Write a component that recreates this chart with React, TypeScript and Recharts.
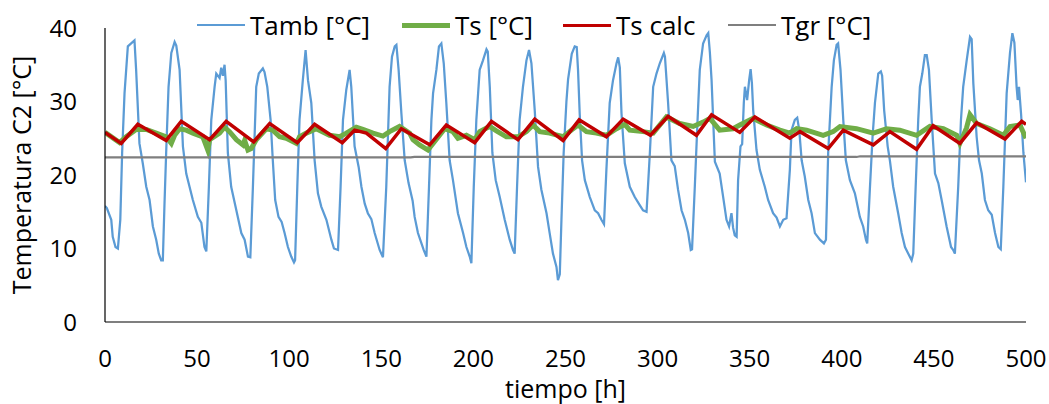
import { LineChart, Line, XAxis, YAxis, Legend } from "recharts";

const FONT = "'Open Sans', 'Noto Sans', sans-serif";

// [tiempo h, valor °C]
const tambPoints: [number, number][] = [
  [0, 15.8], [1.0, 15.5], [3.4, 13.9], [4.2, 11.6], [5.7, 10.2], [7.0, 10.0], [8.3, 13.9], [9.3, 23], [10.6, 31.1],
  [12.4, 37.5], [14.2, 37.9], [16.0, 38.3], [16.9, 34.3], [18.7, 24.3], [20.5, 21.6], [22.4, 18.4], [24.2, 16.6],
  [26.0, 13.0], [27.8, 11.2], [29.2, 9.3], [30.5, 8.4], [31.4, 8.4], [32.3, 16.1], [33.2, 23], [34.5, 32], [36.0, 36.6],
  [37.8, 38.1], [38.7, 37.6], [40.5, 34.3], [42.3, 23.9], [44.1, 20.2], [47.7, 16.6], [50.4, 14.3], [52.3, 13.5],
  [54.0, 10.2], [55.0, 9.6], [56.4, 18.4], [57.7, 27.5], [59.5, 32], [60.4, 33.8], [62.2, 33.2], [63.1, 34.6],
  [64.0, 33.5], [64.9, 35], [65.5, 32.9], [66.7, 23], [68.5, 18.4], [71.3, 15.2], [74.0, 12.1], [75.8, 11.2],
  [77.6, 8.9], [78.9, 8.8], [80.3, 18.4], [82.1, 32], [83.5, 33.8], [85.7, 34.5], [86.6, 34.0], [88.1, 32],
  [89.9, 27.5], [91.1, 22], [92.4, 16.6], [94.2, 14.3], [95.9, 13.6], [97.5, 12.1], [99.3, 10.2], [101.1, 8.9],
  [102.6, 8.1], [103.2, 8.4], [104.4, 18.4], [105.6, 27.5], [107.4, 32.9], [108.9, 37], [110.2, 32.9], [112.0, 29.8],
  [113.8, 22], [115.6, 17.5], [117.4, 15.7], [120.2, 13.9], [122.9, 11.2], [124.3, 10.0], [126.5, 9.8], [127.9, 18.4],
  [129.2, 27.5], [131.0, 31.6], [132.8, 34.3], [133.7, 32], [135.5, 23.9], [137.7, 21.1], [139.2, 18.4], [141.0, 16.1],
  [142.7, 14.8], [144.6, 14.0], [146.4, 12.1], [149.1, 9.8], [150.9, 8.8], [152.7, 18.4], [154.5, 32], [155.8, 36.1],
  [157.3, 37.5], [158.2, 37.7], [159.4, 34.3], [160.9, 28.4], [162.7, 22], [164.8, 18.9], [167.0, 16.5], [168.1, 14.3],
  [169.9, 12.1], [171.8, 10.7], [173.0, 9.8], [174.5, 8.9], [175.9, 18.4], [177.2, 27.5], [178.1, 31.1], [179.9, 34.3],
  [181.3, 37.5], [182.6, 37.9], [183.9, 35.2], [185.3, 29.8], [187.1, 22], [188.9, 19.3], [191.6, 14.8], [194.4, 12.1],
  [196.2, 10.2], [198.0, 8.9], [198.9, 8.0], [200.2, 18.4], [201.6, 27.5], [203.4, 34.3], [205.2, 35.6], [207.1, 37.1],
  [207.8, 36.8], [208.9, 32], [210.3, 23], [212.1, 19.3], [214.3, 17.0], [217.0, 13.9], [219.7, 11.2], [221.5, 9.8],
  [222.4, 9.3], [223.7, 18.4], [225.1, 27.5], [226.9, 32], [228.8, 35.6], [230.2, 37], [231.5, 35.2], [233.3, 28.8],
  [235.1, 21.1], [236.9, 18], [239.7, 14.8], [241.4, 12.1], [243.2, 9.3], [245.1, 7.5], [245.9, 5.7], [246.9, 6.5],
  [247.8, 13.9], [249.0, 23], [250.5, 30], [251.4, 33], [253.4, 36.5], [255.0, 37.5], [256.1, 37.4], [256.8, 34.3],
  [257.7, 28.4], [259.0, 22], [260.5, 19.3], [263.2, 17.0], [265.9, 15.2], [267.7, 14.8], [269.5, 13.9], [270.9, 13.3],
  [272.2, 20.7], [274.0, 29.8], [275.8, 32.9], [277.7, 35.2], [278.6, 36], [279.5, 34.6], [280.4, 28.4], [282.2, 21.6],
  [284.9, 18.4], [287.6, 17.0], [290.3, 15.9], [292.1, 15.2], [294.0, 15.0], [295.8, 23], [297.6, 32], [299.4, 33.8],
  [301.2, 35.2], [303.4, 36.6], [304.0, 36.1], [305.7, 29.8], [307.5, 22], [309.3, 21.2], [311.1, 18], [313.0, 15.2],
  [314.8, 13.9], [316.6, 12.1], [318.0, 9.8], [318.7, 9.9], [320.2, 18.4], [321.7, 27.5], [322.9, 34.3], [324.7, 37.9],
  [326.6, 39.0], [327.5, 39.3], [328.4, 36.6], [329.3, 32.9], [331.1, 21.8], [333.7, 20.2], [335.6, 17.0], [337.4, 13.9],
  [338.8, 13.0], [340.1, 14.8], [341.0, 12.8], [341.9, 11.8], [342.9, 11.6], [343.7, 19.3], [345.0, 23.9], [345.9, 24.2],
  [346.8, 29.8], [347.4, 32], [348.6, 30.2], [349.7, 32.9], [350.5, 34.4], [351.2, 32.5], [351.9, 28.8], [353.7, 23.4],
  [355.5, 20.7], [358.2, 18.4], [360.0, 16.6], [362.7, 14.8], [364.6, 14.2], [366.4, 13.0], [368.2, 13.9], [370.0, 14.1],
  [371.8, 20.7], [372.7, 26.1], [374.5, 27.5], [375.8, 27.8], [376.9, 26.1], [378.2, 22], [379.9, 19.8], [381.8, 16.6],
  [383.6, 14.8], [385.4, 12.1], [388.1, 11.2], [390.3, 10.7], [391.4, 11.2], [392.6, 23], [394.5, 32], [395.7, 35.6],
  [397.2, 37.7], [398.0, 37.9], [399.3, 34.3], [400.8, 27.5], [402.2, 22], [404.4, 19.3], [407.1, 17.5], [409.8, 14.3],
  [411.6, 13.0], [413.1, 11.2], [413.8, 10.7], [415.3, 18.4], [416.7, 25.2], [418.0, 29.8], [419.8, 33.8], [421.2, 34.1],
  [421.9, 33.5], [423.0, 28.8], [424.9, 23.9], [426.1, 22], [427.9, 18.4], [430.6, 14.8], [432.5, 12.1], [434.3, 10.2],
  [436.1, 9.3], [437.9, 8.4], [438.8, 9.3], [440.1, 18.4], [441.5, 27.5], [442.4, 32], [443.7, 33.8], [445.1, 36.3],
  [446.1, 36.3], [447.3, 34.3], [448.8, 27.5], [450.6, 20.2], [452.4, 18.9], [454.2, 16.6], [456.9, 13.0], [459.3, 10.2],
  [460.5, 9.8], [461.4, 9.3], [463.2, 18.4], [464.7, 27.5], [465.9, 32], [467.8, 35.6], [469.6, 38.8], [470.5, 38.5],
  [471.4, 32.5], [473.2, 25.2], [474.5, 22], [476.0, 20.2], [477.7, 16.6], [479.5, 15.2], [481.4, 14.6], [483.2, 12.1],
  [485.0, 10.2], [486.3, 9.9], [487.7, 18.4], [489.5, 31.1], [491.3, 36.6], [492.6, 39.3], [493.7, 38], [494.9, 32],
  [495.5, 30.2], [496.2, 32], [497.3, 28.4], [498.6, 23], [500, 19],
];

const tsPoints: [number, number][] = [
  [0, 25.8], [7.9, 24.4], [11.5, 25.2], [16.9, 26.2], [22.4, 26.2], [27.8, 25.7], [33.2, 25.2], [36.0, 24.3],
  [37.8, 25.4], [40.5, 26.3], [44.1, 26.1], [47.7, 25.7], [53.1, 25.2], [55.8, 23.4], [56.8, 24.8], [62.2, 25.7],
  [64.9, 26.5], [67.6, 25.9], [71.3, 24.8], [74.9, 24.1], [75.8, 24.7], [77.6, 23.4], [79.4, 23.6], [82.1, 24.8],
  [87.6, 26.3], [91.1, 26.1], [94.8, 25.2], [98.4, 25.0], [103.9, 24.3], [105.6, 25.2], [109.3, 25.7], [114.7, 26.3],
  [121.9, 25.4], [127.4, 25.2], [131.0, 25.7], [136.4, 26.5], [140.0, 26.2], [145.5, 25.7], [150.9, 25.3], [154.5, 25.9],
  [159.9, 26.6], [165.4, 25.7], [167.2, 24.8], [170.8, 24.1], [175.3, 23.4], [178.1, 24.3], [184.4, 26.3], [188.9, 25.9],
  [191.6, 25.0], [196.2, 25.4], [200.7, 24.8], [203.4, 25.9], [208.8, 26.6], [212.5, 26.0], [217.9, 25.2], [224.2, 25.2],
  [228.8, 25.9], [232.4, 26.8], [236.0, 25.9], [241.4, 25.7], [248.7, 25.2], [253.2, 26.1], [256.8, 26.8], [261.4, 25.9],
  [266.8, 25.7], [272.2, 25.4], [277.7, 26.3], [282.2, 26.9], [284.9, 26.1], [292.1, 25.9], [297.6, 25.7], [304.8, 27.9],
  [312.0, 27.0], [319.3, 26.6], [324.7, 27.2], [328.4, 27.7], [333.7, 26.1], [340.9, 26.3], [344.6, 26.8], [351.9, 27.7],
  [359.2, 26.8], [366.4, 26.1], [371.8, 25.7], [375.5, 26.3], [380.9, 26.1], [389.9, 25.4], [395.3, 25.9], [399.0, 26.6],
  [408.0, 26.3], [417.1, 25.7], [424.3, 26.3], [431.5, 26.1], [440.6, 25.4], [447.8, 26.6], [455.1, 26.3], [462.4, 25.4],
  [464.1, 24.3], [467.7, 26.4], [469.6, 28.2], [473.2, 27.0], [480.4, 26.3], [487.7, 25.4], [491.3, 26.6], [496.7, 26.8],
  [500, 25.0],
];

const tsCalcPoints: [number, number][] = [
  [0, 25.8], [8.8, 24.3], [17.8, 26.9], [33.2, 24.7], [41.4, 27.3], [56.8, 24.8], [65.8, 27.3], [80.7, 24.5],
  [89.4, 27.0], [104.4, 24.4], [113.8, 26.9], [128.8, 24.4], [135.5, 26.1], [141.9, 25.7], [152.4, 23.6], [160.9, 26.3],
  [176.3, 24.1], [185.3, 26.8], [200.7, 24.4], [209.8, 27.3], [224.2, 24.8], [233.3, 27.6], [248.7, 24.7], [257.4, 27.5],
  [272.2, 25.2], [281.3, 27.6], [296.1, 25.4], [305.7, 28.0], [321.1, 25.4], [329.3, 28.2], [344.6, 25.8], [352.8, 27.9],
  [371.8, 25.0], [377.3, 25.9], [392.6, 23.6], [400.8, 26.1], [417.1, 24.1], [426.1, 25.9], [440.6, 23.5], [449.6, 26.7],
  [464.1, 24.3], [473.2, 27.1], [488.6, 24.9], [497.7, 27.3], [500, 26.9],
];

const tgrPoints: [number, number][] = [
  [0, 22.4], [166, 22.4], [168, 22.45], [408, 22.45], [410, 22.55], [500, 22.55],
];

const xTicks = [0, 50, 100, 150, 200, 250, 300, 350, 400, 450, 500];
const yTicks = [0, 10, 20, 30, 40];

const toRows = (pts: [number, number][]) => pts.map(([t, v]) => ({ t, v }));

const series = [
  { name: "Tamb [°C]", data: toRows(tambPoints), color: "#5B9BD5", width: 2.25 },
  { name: "Ts [°C]", data: toRows(tsPoints), color: "#70AD47", width: 5 },
  { name: "Ts calc", data: toRows(tsCalcPoints), color: "#C00000", width: 3.5 },
  { name: "Tgr [°C]", data: toRows(tgrPoints), color: "#7F7F7F", width: 2.25 },
];

const legendItemWidths = [205, 161, 165, 160];

const LegendRow = () => (
  <div style={{ display: "flex", alignItems: "center", fontFamily: FONT, fontSize: 26, color: "#000", lineHeight: "34px" }}>
    {series.map((s, i) => (
      <div key={s.name} style={{ display: "flex", alignItems: "center", width: legendItemWidths[i], whiteSpace: "nowrap" }}>
        <span style={{ display: "inline-block", width: 48, height: 0, borderTop: `${s.width}px solid ${s.color}`, marginRight: 5 }} />
        <span>{s.name}</span>
      </div>
    ))}
  </div>
);

const tickStyle = { fill: "#000", fontSize: 24, fontFamily: FONT };
const labelStyle = { fill: "#000", fontSize: 25, fontFamily: FONT };

export default function App() {
  return (
    <div style={{ position: "absolute", left: 0, top: 0 }}>
      <LineChart width={1049} height={404} margin={{ top: 28, right: 23, bottom: 0, left: 0 }}>
        <XAxis
          type="number"
          dataKey="t"
          domain={[0, 500]}
          ticks={xTicks}
          allowDataOverflow
          height={82}
          tickSize={0}
          tickMargin={28}
          tickLine={false}
          tick={tickStyle}
          axisLine={{ stroke: "#000", strokeWidth: 1.2 }}
          label={{ value: "tiempo [h]", position: "insideBottom", offset: 6, ...labelStyle }}
        />
        <YAxis
          type="number"
          domain={[0, 40]}
          ticks={yTicks}
          allowDataOverflow
          width={105}
          tickSize={0}
          tickMargin={28}
          tickLine={false}
          tick={tickStyle}
          axisLine={{ stroke: "#000", strokeWidth: 1.2 }}
          label={{ value: "Temperatura C2 [°C]", angle: -90, position: "center", dx: -30, ...labelStyle }}
        />
        <Legend
          layout="horizontal"
          verticalAlign="middle"
          align="center"
          content={<LegendRow />}
          wrapperStyle={{ top: 8, left: 197, width: 700, height: 34 }}
        />
        {series.map((s) => (
          <Line
            key={s.name}
            name={s.name}
            data={s.data}
            dataKey="v"
            type="linear"
            stroke={s.color}
            strokeWidth={s.width}
            dot={false}
            activeDot={false}
            isAnimationActive={false}
          />
        ))}
      </LineChart>
    </div>
  );
}
